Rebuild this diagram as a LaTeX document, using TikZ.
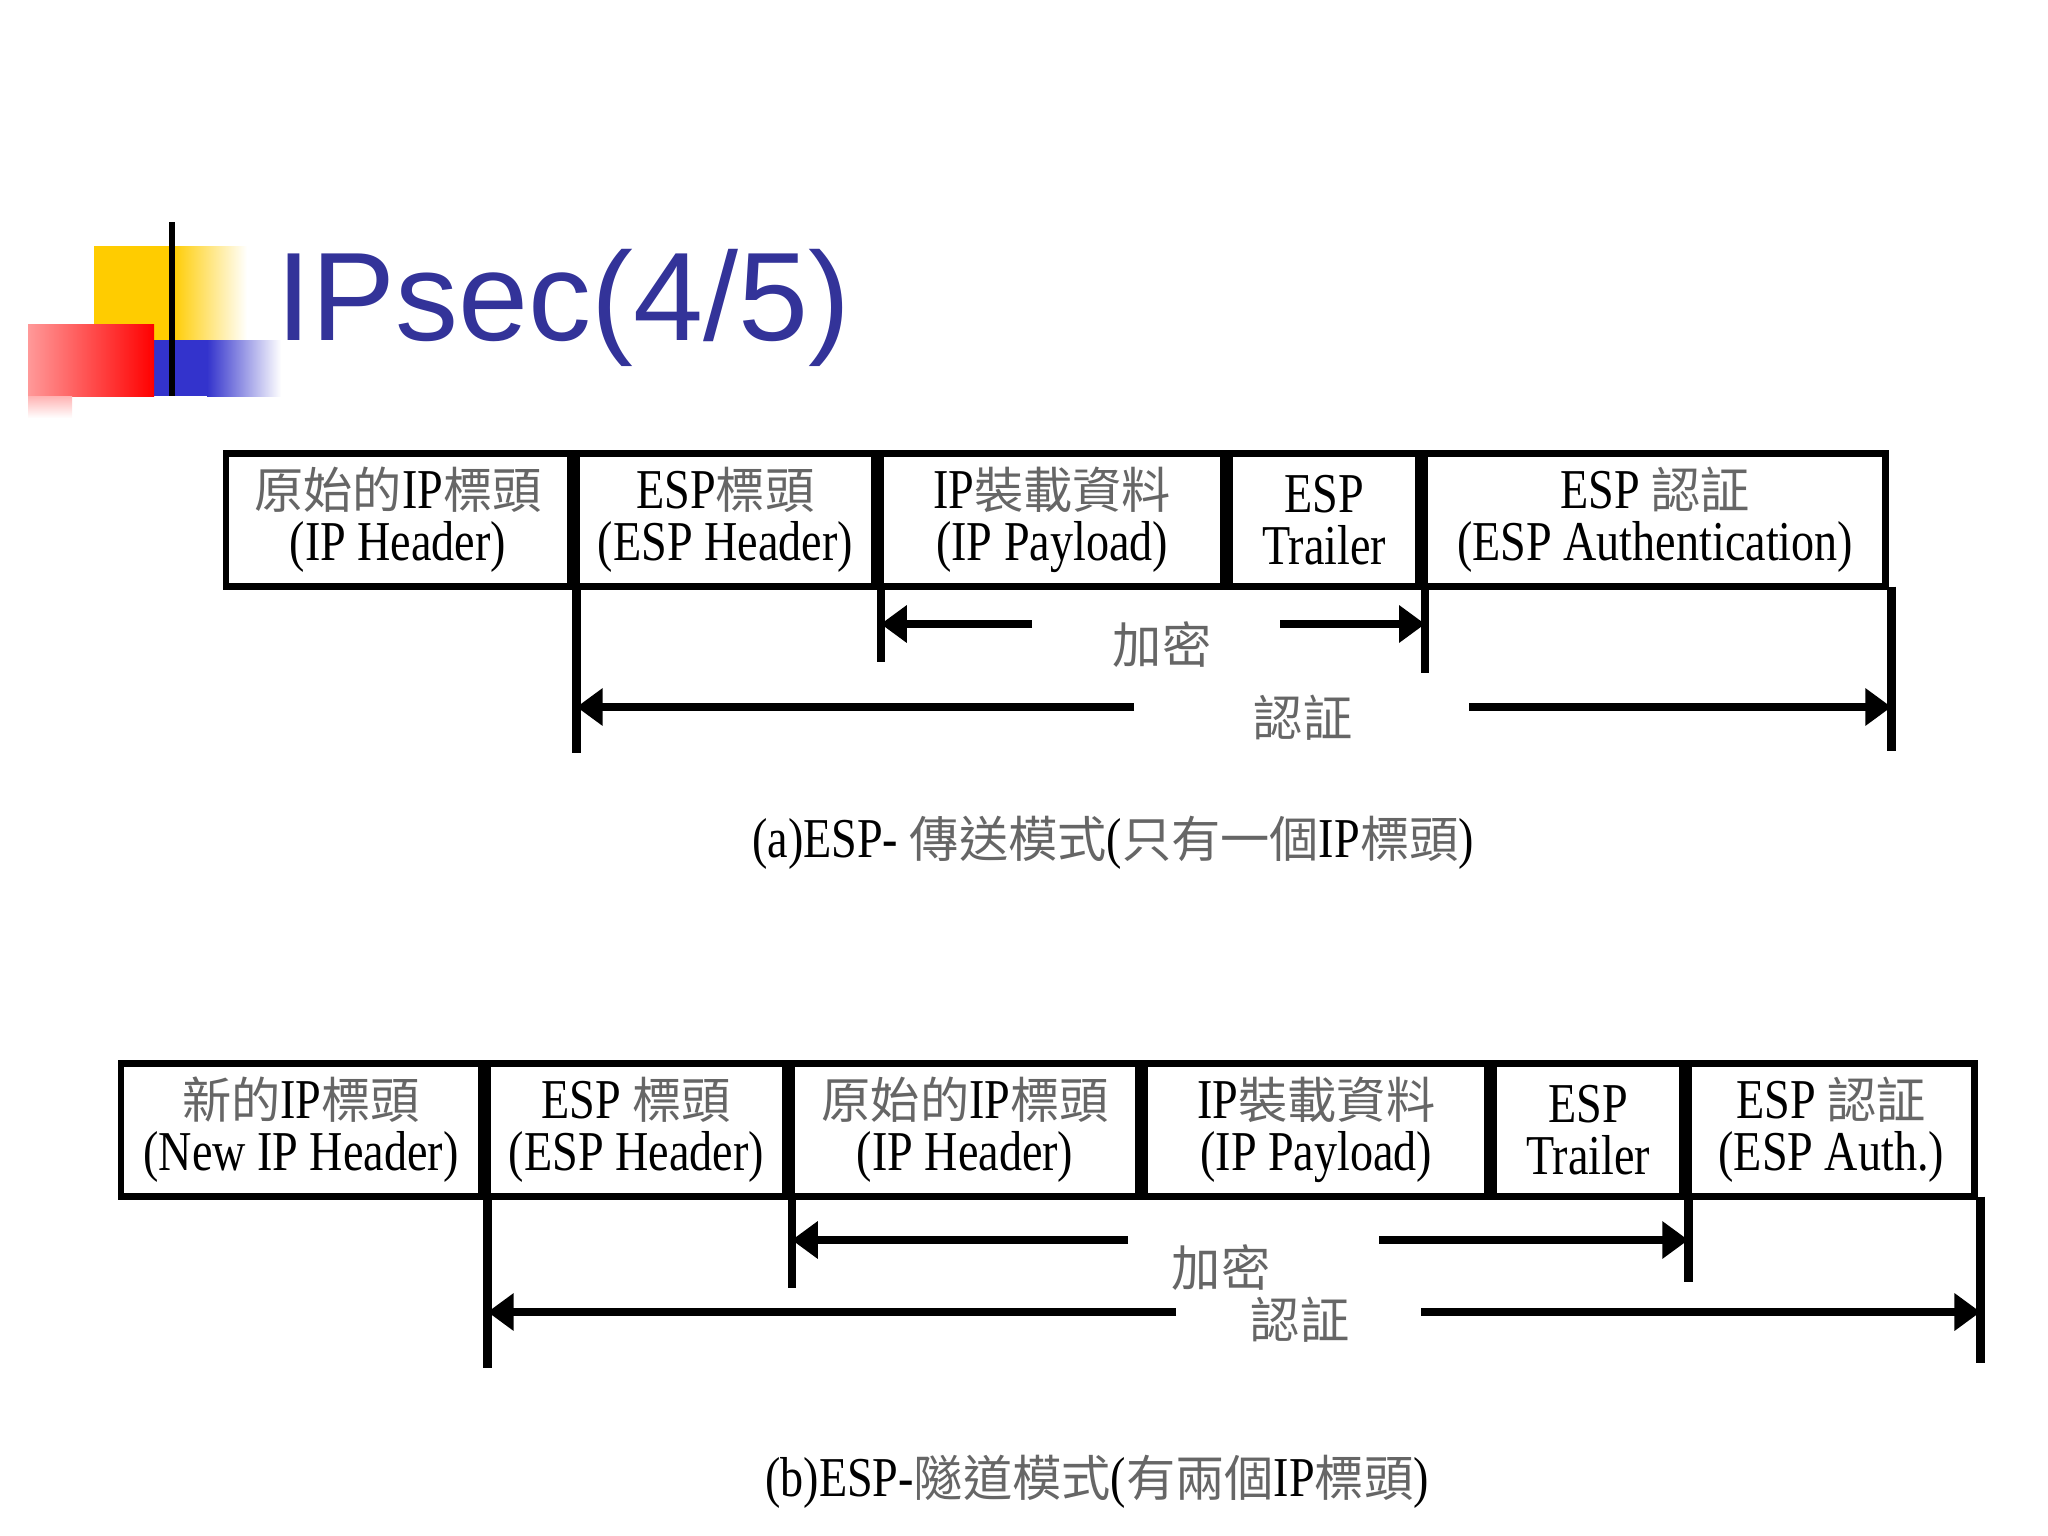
\documentclass[tikz,border=0pt]{standalone}
\usepackage{fontspec}
\usepackage{tikz}
\usetikzlibrary{positioning,arrows.meta}
\setmainfont{Liberation Serif}
\newfontfamily\titlefont{Liberation Sans}
\newfontfamily\cellfont[FakeStretch=0.82]{Liberation Serif}
\newfontfamily\cjkfont{Noto Sans CJK TC}
\definecolor{titleblue}{HTML}{333399}
\definecolor{zhgray}{gray}{0.4}
\definecolor{logogold}{HTML}{FFCC00}
\definecolor{logoblue}{HTML}{3333CC}
\newcommand{\zhtext}[1]{{\cjkfont\fontsize{14pt}{14.8pt}\selectfont\color{zhgray}#1}}

\begin{document}
\begin{tikzpicture}[x=0.01cm, y=-0.01cm, node distance=0.065cm,
    cell/.style={draw, line width=0.065cm, outer sep=0pt, inner sep=0pt, minimum height=1.33cm, align=center, font=\cellfont\fontsize{16pt}{14.8pt}\selectfont},
    tick/.style={line width=0.085cm},
    arr/.style={line width=0.085cm, -{Triangle[length=0.26cm, width=0.36cm]}},
    lbl/.style={inner sep=0pt, font=\cellfont\fontsize{16pt}{14.8pt}\selectfont}]
    \useasboundingbox (0,0) rectangle (2048,1536);

    \fill[logogold] (94,246) rectangle (172,340);
    \shade[left color=logogold, right color=white] (172,246) rectangle (247,340);
    \fill[logoblue] (154,340) rectangle (207,396);
    \shade[left color=logoblue, right color=white] (207,340) rectangle (281,396);
    \shade[left color=red!40, right color=red] (28,324) rectangle (154,396);
    \shade[top color=red!30, bottom color=white] (28,396) rectangle (72,418);
    \fill (169,222) rectangle (175,396);
    \node[anchor=base west, inner sep=0pt, text=titleblue, font=\titlefont\fontsize{35.8pt}{40pt}\selectfont] (title) at (276,340) {IPsec(4/5)};

    \node[cell, minimum width=3.44cm] (a1) at (398,520) {\zhtext{原始的}IP\zhtext{標頭}\\(IP Header)};
    \node[cell, minimum width=2.975cm, right=of a1] (a2) {ESP\zhtext{標頭}\\(ESP Header)};
    \node[cell, minimum width=3.425cm, right=of a2] (a3) {IP\zhtext{裝載資料}\\(IP Payload)};
    \node[cell, minimum width=1.885cm, right=of a3] (a4) {ESP\\Trailer};
    \node[cell, minimum width=4.6cm, right=of a4] (a5) {ESP \zhtext{認証}\\(ESP Authentication)};

    \coordinate (a5r) at ([xshift=0.06cm]a5.south east);
    \draw[tick] (a2.south west) -- ++(0,166);
    \draw[tick] (a3.south west) -- ++(0,75);
    \draw[tick] (a5.south west) -- ++(0,86);
    \draw[tick] (a5r) -- ++(0,164);

    \node[lbl] (encA) at (1162,645) {\zhtext{加密}};
    \coordinate (encAl) at (1032,624);
    \coordinate (encAr) at (1280,624);
    \draw[arr] (encAl) -- (encAl -| a3.south west);
    \draw[arr] (encAr) -- (encAr -| a5.south west);
    \node[lbl] (authA) at (1303,718) {\zhtext{認証}};
    \coordinate (authAl) at (1134,707);
    \coordinate (authAr) at (1469,707);
    \draw[arr] (authAl) -- (authAl -| a2.south west);
    \draw[arr] (authAr) -- (authAr -| a5r);

    \node[lbl] (capA) at (1113,843) {(a)ESP- \zhtext{傳送模式}(\zhtext{只有一個}IP\zhtext{標頭})};

    \node[cell, minimum width=3.6cm] (b1) at (301,1130) {\zhtext{新的}IP\zhtext{標頭}\\(New IP Header)};
    \node[cell, minimum width=2.975cm, right=of b1] (b2) {ESP \zhtext{標頭}\\(ESP Header)};
    \node[cell, minimum width=3.465cm, right=of b2] (b3) {\zhtext{原始的}IP\zhtext{標頭}\\(IP Header)};
    \node[cell, minimum width=3.425cm, right=of b3] (b4) {IP\zhtext{裝載資料}\\(IP Payload)};
    \node[cell, minimum width=1.875cm, right=of b4] (b5) {ESP\\Trailer};
    \node[cell, minimum width=2.86cm, right=of b5] (b6) {ESP \zhtext{認証}\\(ESP Auth.)};

    \coordinate (b6r) at ([xshift=0.06cm]b6.south east);
    \draw[tick] (b2.south west) -- ++(0,171);
    \draw[tick] (b3.south west) -- ++(0,91);
    \draw[tick] (b6.south west) -- ++(0,85);
    \draw[tick] (b6r) -- ++(0,166);

    \node[lbl] (encB) at (1221,1268) {\zhtext{加密}};
    \coordinate (encBl) at (1128,1240);
    \coordinate (encBr) at (1379,1240);
    \draw[arr] (encBl) -- (encBl -| b3.south west);
    \draw[arr] (encBr) -- (encBr -| b6.south west);
    \node[lbl] (authB) at (1300,1320) {\zhtext{認証}};
    \coordinate (authBl) at (1176,1312);
    \coordinate (authBr) at (1421,1312);
    \draw[arr] (authBl) -- (authBl -| b2.south west);
    \draw[arr] (authBr) -- (authBr -| b6r);

    \node[lbl] (capB) at (1097,1482) {(b)ESP-\zhtext{隧道模式}(\zhtext{有兩個}IP\zhtext{標頭})};
\end{tikzpicture}
\end{document}
